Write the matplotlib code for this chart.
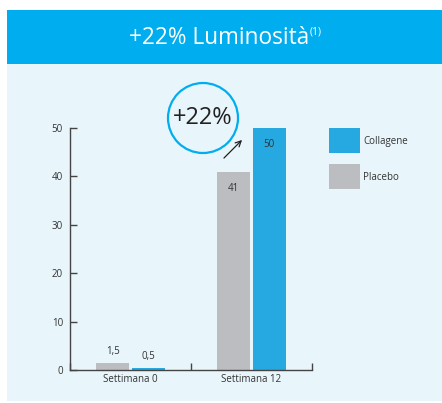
import numpy as np
import matplotlib.pyplot as plt
from matplotlib.patches import Rectangle, Circle

plt.rcParams['font.family'] = ['Open Sans', 'DejaVu Sans']

categories = ['Settimana 0', 'Settimana 12']
placebo = [1.5, 41]
collagene = [0.5, 50]
placebo_labels = ['1,5', '41']
collagene_labels = ['0,5', '50']

c_coll = '#25A9E0'
c_plac = '#BCBDC0'
c_bg = '#E8F5FB'
c_head = '#00AEEF'
c_text = '#333333'

fig = plt.figure(figsize=(4.42, 4.03), dpi=100)
fig.patch.set_facecolor('white')

# panel + header band (figure coords), kept behind the axes
fig.patches.append(Rectangle((7 / 442, 0.005), 1, (403 - 64) / 403 - 0.005,
                             transform=fig.transFigure, fc=c_bg, ec='none', zorder=-10))
fig.patches.append(Rectangle((7 / 442, 1 - 64 / 403), 1, 54 / 403,
                             transform=fig.transFigure, fc=c_head, ec='none', zorder=-10))
fig.text(129 / 442, 1 - 38 / 403, '+22% Luminosità', color='white', fontsize=16.3,
         ha='left', va='center')
fig.text(310 / 442, 1 - 32 / 403, '(1)', color='white', fontsize=7.5, ha='left', va='center')

ax = fig.add_axes([70 / 442, 1 - 370 / 403, 242 / 442, 242 / 403])
ax.set_facecolor('none')
x = np.arange(len(categories)) + 0.5
w = 0.27
gap = 0.013
bp = ax.bar(x - w / 2 - gap, placebo, w, color=c_plac, zorder=2)
bc = ax.bar(x + w / 2 + gap, collagene, w, color=c_coll, zorder=2)

ax.set_xlim(0, 2)
ax.set_ylim(0, 50)
ax.set_yticks([0, 10, 20, 30, 40, 50])
ax.set_xticks([0, 1, 2], minor=False)
ax.set_xticklabels([])
ax.set_xticks(x, minor=True)
ax.set_xticklabels(categories, minor=True)
ax.tick_params(axis='x', which='minor', length=0, labelsize=7, colors=c_text, pad=3)
ax.tick_params(axis='x', which='major', direction='in', length=5, width=1, color='#444444')
ax.tick_params(axis='y', direction='in', length=5, width=1, color='#444444',
               labelsize=7, labelcolor=c_text, pad=5)
for s in ['top', 'right']:
    ax.spines[s].set_visible(False)
for s in ['left', 'bottom']:
    ax.spines[s].set_color('#444444')
    ax.spines[s].set_linewidth(1)

# value labels
for i in range(len(categories)):
    if placebo[i] < 10:
        ax.text(x[i] - w / 2 - gap, placebo[i] + 1.2, placebo_labels[i], ha='center',
                va='bottom', fontsize=7, color=c_text)
        ax.text(x[i] + w / 2 + gap, collagene[i] + 1.2, collagene_labels[i], ha='center',
                va='bottom', fontsize=7, color=c_text)
    else:
        ax.text(x[i] - w / 2 - gap, placebo[i] - 3.5, placebo_labels[i], ha='center',
                va='center', fontsize=7, color=c_text)
        ax.text(x[i] + w / 2 + gap, collagene[i] - 3.5, collagene_labels[i], ha='center',
                va='center', fontsize=7, color=c_text)

# legend squares
for yy, col, lab in [(128, c_coll, 'Collagene'), (164, c_plac, 'Placebo')]:
    fig.patches.append(Rectangle((329 / 442, 1 - (yy + 25) / 403), 31 / 442, 25 / 403,
                                 transform=fig.transFigure, fc=col, ec='none'))
    fig.text(363 / 442, 1 - (yy + 13) / 403, lab, fontsize=7, color=c_text, va='center')

# circle callout
fig.patches.append(Circle((2.03, 4.03 - 1.18), 0.35, transform=fig.dpi_scale_trans,
                          fc='none', ec=c_head, lw=1.6))
fig.text(203 / 442, 1 - 118 / 403, '+22%', fontsize=17, color='#222222',
         ha='center', va='center')
ax.annotate('', xy=(244 / 442, 1 - 138 / 403), xytext=(222 / 442, 1 - 160 / 403),
            xycoords='figure fraction', textcoords='figure fraction',
            arrowprops=dict(arrowstyle='->', color='#222222', lw=0.9))

fig.savefig('out.png', dpi=100)
